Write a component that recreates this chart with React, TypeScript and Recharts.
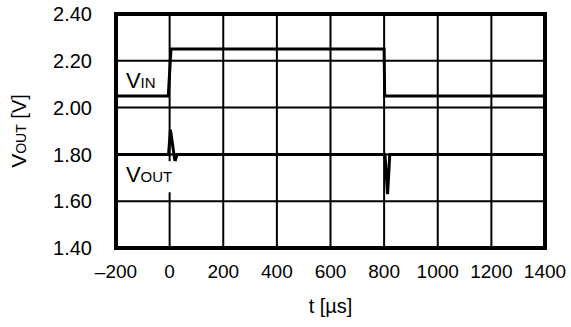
import React from 'react';
import { LineChart, Line, XAxis, YAxis, CartesianGrid, ReferenceArea, ReferenceDot } from 'recharts';

// waveform samples
const vinTime = [-200, -5, 5, 800, 802, 1400];
const vinVolt = [2.05, 2.05, 2.25, 2.25, 2.05, 2.05];
const voutTime = [-200, -4, 3, 20, 28, 803, 813, 821, 1400];
const voutVolt = [1.8, 1.8, 1.905, 1.77, 1.8, 1.8, 1.63, 1.8, 1.8];

const xTicks = [-200, 0, 200, 400, 600, 800, 1000, 1200, 1400];
const yTicks = [1.4, 1.6, 1.8, 2.0, 2.2, 2.4];

const vinData = vinTime.map((t, i) => ({ t, v: vinVolt[i] }));
const voutData = voutTime.map((t, i) => ({ t, v: voutVolt[i] }));

const FONT = '"Liberation Sans", Arial, sans-serif';

const SeriesTag = ({ cx, cy, sub, bg }: any) => (
    <g>
        {bg && <rect x={cx - 4} y={cy - 21} width={54} height={31} fill="#fff" />}
        <text x={cx} y={cy} fontFamily={FONT} fill="#000">
            <tspan fontSize={22}>V</tspan>
            <tspan fontSize={15}>{sub}</tspan>
        </text>
    </g>
);

const YTitle = () => (
    <text x={0} y={0} transform="translate(26,131) rotate(-90)" textAnchor="middle" fontFamily={FONT} fill="#000">
        <tspan fontSize={21}>V</tspan>
        <tspan fontSize={14}>OUT</tspan>
        <tspan fontSize={20}> [V]</tspan>
    </text>
);

const App: React.FC = () => {
    return (
        <div style={{ width: 571, height: 327, overflow: 'hidden' }}>
            <style>{'body{margin:0;overflow:hidden}'}</style>
            <LineChart
                width={571}
                height={327}
                margin={{ top: 14, right: 26, bottom: 0, left: 0 }}
                style={{ backgroundColor: '#fff', fontFamily: FONT, overflow: 'visible' }}
            >
                <CartesianGrid stroke="#000" strokeWidth={2} />
                <XAxis
                    type="number"
                    dataKey="t"
                    domain={[-200, 1400]}
                    ticks={xTicks}
                    allowDataOverflow
                    axisLine={false}
                    tickLine={false}
                    tickSize={0}
                    tickMargin={17}
                    height={79}
                    tick={{ fill: '#000', fontSize: 19 }}
                    tickFormatter={(v: number) => (v < 0 ? '\u2013' + Math.abs(v) : String(v))}
                    label={{ value: 't [\u00b5s]', position: 'insideBottom', offset: 14, fill: '#000', fontSize: 20 }}
                />
                <YAxis
                    type="number"
                    domain={[1.4, 2.4]}
                    ticks={yTicks}
                    allowDataOverflow
                    width={116}
                    axisLine={false}
                    tickLine={false}
                    tickSize={0}
                    tickMargin={24}
                    tick={{ fill: '#000', fontSize: 20 }}
                    tickFormatter={(v: number) => v.toFixed(2)}
                    label={<YTitle />}
                />
                <ReferenceDot x={-163} y={1.681} r={0} shape={(p: any) => <SeriesTag {...p} sub="OUT" bg />} />
                <ReferenceDot x={-163} y={2.085} r={0} shape={(p: any) => <SeriesTag {...p} sub="IN" />} />
                <Line data={vinData} dataKey="v" type="linear" stroke="#000" strokeWidth={3} dot={false} isAnimationActive={false} />
                <Line data={voutData} dataKey="v" type="linear" stroke="#000" strokeWidth={3} dot={false} isAnimationActive={false} />
                <ReferenceArea x1={-200} x2={1400} y1={1.4} y2={2.4} fill="none" stroke="#000" strokeWidth={4} />
            </LineChart>
        </div>
    );
};

export default App;
